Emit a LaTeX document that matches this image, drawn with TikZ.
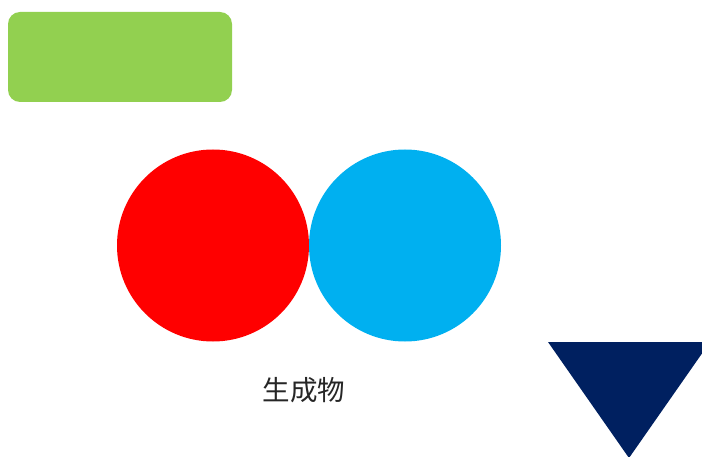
\documentclass[tikz,border=0pt]{standalone}
\usepackage{fontspec}
\newfontfamily\cjk{Noto Sans CJK SC}
\definecolor{pgreen}{HTML}{92D050}
\definecolor{pred}{HTML}{FF0000}
\definecolor{pblue}{HTML}{00B0F0}
\definecolor{pnavy}{HTML}{002060}
\begin{document}
\begin{tikzpicture}[x=1pt,y=-1pt,
  blob/.style={draw=none,circle,minimum size=192pt,inner sep=0pt}]
\useasboundingbox (0,0) rectangle (702,457);
\clip (0,0) rectangle (702,457);
\node[fill=pgreen,rounded corners=12pt,minimum width=224pt,minimum height=90pt,inner sep=0pt] (box) at (120,57) {};
\node[blob,fill=pred] (red) at (213,245.5) {};
\node[blob,fill=pblue] (blue) at (405,245.5) {};
\node[font=\cjk\fontsize{27.5}{30}\selectfont,text=black!85] (label) at (304,390) {生成物};
\fill[pnavy] (548,342) coordinate (t1) -- (710,342) coordinate (t2) -- (629,458) coordinate (t3) -- cycle;
\end{tikzpicture}
\end{document}
